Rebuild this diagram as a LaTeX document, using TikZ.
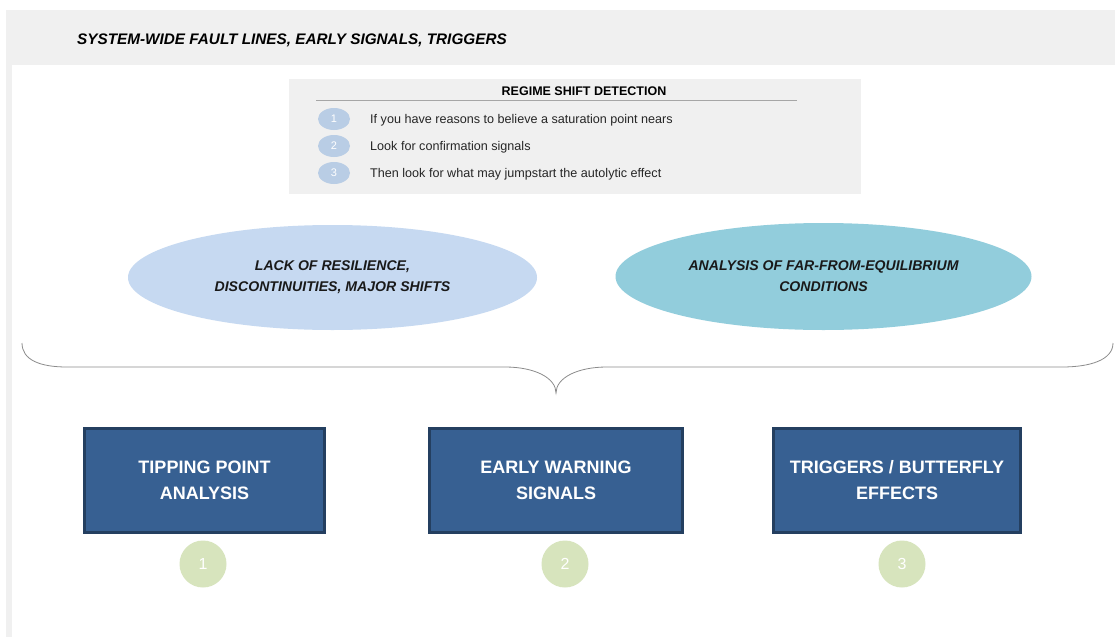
\documentclass[tikz,border=0pt]{standalone}
\usepackage{fontspec}
\setmainfont{Liberation Sans}
\usetikzlibrary{shapes.geometric}

\definecolor{panelgrey}{HTML}{F0F0F0}
\definecolor{dotblue}{HTML}{B9CDE5}
\definecolor{paleblue}{HTML}{C6D9F1}
\definecolor{aqua}{HTML}{92CDDC}
\definecolor{boxblue}{HTML}{376092}
\definecolor{boxedge}{HTML}{243F60}
\definecolor{sage}{HTML}{D7E4BD}
\definecolor{bracegrey}{HTML}{8C8C8C}

\tikzset{
  stepdot/.style={shape=ellipse, minimum width=32pt, minimum height=22pt, inner sep=0pt, fill=dotblue, text=white, font=\fontsize{11}{13}\selectfont},
  steptext/.style={anchor=west, inner sep=0pt, text=black!85, font=\fontsize{12.6}{15}\selectfont},
  cloud/.style={shape=ellipse, align=center, inner sep=0pt, text=black!90, font=\bfseries\itshape\fontsize{14.1}{21}\selectfont},
  phase/.style={shape=rectangle, align=center, minimum height=104pt, fill=boxblue, draw=boxedge, line width=2.5pt, text=white, font=\bfseries\fontsize{18}{26}\selectfont},
  phasenum/.style={shape=circle, minimum size=47pt, inner sep=0pt, fill=sage, text=white, font=\fontsize{16}{18}\selectfont}
}

\begin{document}
\begin{tikzpicture}[x=1pt,y=-1pt]
\useasboundingbox (0,0) rectangle (1115,637);

% Frame and heading
\fill[panelgrey] (6,10) rectangle (1115,637);
\fill[white] (12,65) rectangle (1115,637);
\node[anchor=west, inner sep=0pt, font=\bfseries\itshape\fontsize{15.3}{18}\selectfont] (heading) at (77,40.5) {SYSTEM-WIDE FAULT LINES, EARLY SIGNALS, TRIGGERS};

% Regime shift detection
\fill[panelgrey] (289,79) rectangle (861,194);
\node[font=\bfseries\fontsize{12.5}{15}\selectfont] (regime) at (584,91) {REGIME SHIFT DETECTION};
\draw[black!35, line width=0.6pt] (316,100) -- (797,100);
\foreach \n/\y/\t in {1/119/{If you have reasons to believe a saturation point nears},
                       2/146/{Look for confirmation signals},
                       3/173/{Then look for what may jumpstart the autolytic effect}} {
  \node[stepdot] (dot\n) at (334,\y) {\n};
  \node[steptext] (item\n) at (370,\y+1.5) {\t};
}

% Ellipses
\node[cloud, fill=paleblue, minimum width=409pt, minimum height=105pt] (resilience) at (332.5,277.5) {LACK OF RESILIENCE,\\DISCONTINUITIES, MAJOR SHIFTS};
\node[cloud, fill=aqua, minimum width=416pt, minimum height=107pt] (equilibrium) at (823.5,276.5) {ANALYSIS OF FAR-FROM-EQUILIBRIUM\\CONDITIONS};

% Brace
\draw[bracegrey, line width=0.8pt] (22,343) .. controls (22,360) and (40,367) .. (67,367) -- (505,367)
  .. controls (535,367) and (556,378) .. (556,393)
  .. controls (556,378) and (577,367) .. (607,367) -- (1062,367)
  .. controls (1090,367) and (1113,360) .. (1113,343);

% Boxes
\node[phase, minimum width=240pt] (tipping) at (204.5,480.5) {TIPPING POINT\\ANALYSIS};
\node[phase, minimum width=253pt] (warning) at (556,480.5) {EARLY WARNING\\SIGNALS};
\node[phase, minimum width=247pt] (triggers) at (897,480.5) {TRIGGERS / BUTTERFLY\\EFFECTS};

% Numbers
\node[phasenum] (num1) at (203,564) {1};
\node[phasenum] (num2) at (565,564) {2};
\node[phasenum] (num3) at (902,564) {3};

\end{tikzpicture}
\end{document}
